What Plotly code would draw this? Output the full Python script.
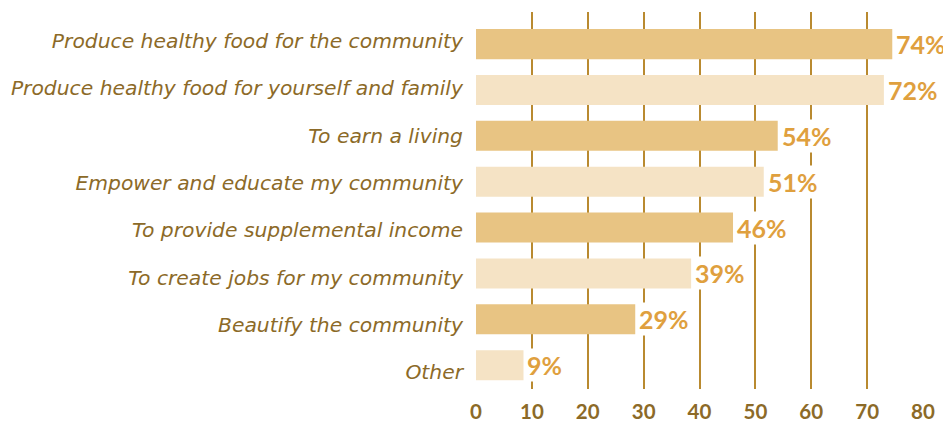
import plotly.graph_objects as go

categories = [
    "Produce healthy food for the community",
    "Produce healthy food for yourself and family",
    "To earn a living",
    "Empower and educate my community",
    "To provide supplemental income",
    "To create jobs for my community",
    "Beautify the community",
    "Other",
]
values = [74.5, 73, 54, 51.5, 46, 38.5, 28.5, 8.5]
value_labels = ["74%", "72%", "54%", "51%", "46%", "39%", "29%", "9%"]
tick_vals = [0, 10, 20, 30, 40, 50, 60, 70, 80]
label_positions = list(range(len(categories)))

DARK = "#E8C483"
LIGHT = "#F5E3C5"
bar_colors = [DARK if i % 2 == 0 else LIGHT for i in range(len(categories))]

fig = go.Figure()
fig.add_trace(go.Bar(
    x=values, y=categories, orientation="h",
    marker=dict(color=bar_colors, line=dict(width=0)),
    hoverinfo="skip",
))
# invisible trace anchoring the category-label axis
fig.add_trace(go.Scatter(
    x=values, y=label_positions, yaxis="y2", mode="markers",
    marker=dict(opacity=0), hoverinfo="skip",
))

for cat, v, lab in zip(categories, values, value_labels):
    fig.add_annotation(
        x=v, y=cat, text=lab, showarrow=False, xanchor="left", yanchor="middle",
        xshift=2, bgcolor="white", borderpad=1,
        font=dict(family="Lato, sans-serif", size=25, color="#DFA03E", weight="bold"),
    )

fig.update_layout(
    width=943, height=415,
    margin=dict(l=468, r=28, t=4, b=34, autoexpand=False),
    paper_bgcolor="white", plot_bgcolor="white",
    bargap=0.345,
    showlegend=False,
    xaxis=dict(
        range=[0, 80], tickvals=tick_vals, showgrid=True, gridcolor="#B98A30", gridwidth=2,
        zeroline=False, showline=False, ticks="", automargin=False,
        tickfont=dict(family="Lato, sans-serif", size=20.5, color="#8C6A28", weight="bold"),
        ticklabelstandoff=8,
    ),
    yaxis=dict(
        type="category", categoryorder="array", categoryarray=categories,
        range=[7.52, -0.7], showgrid=False, zeroline=False, showline=False,
        ticks="", showticklabels=False, automargin=False,
    ),
    yaxis2=dict(
        overlaying="y", side="left", anchor="x", automargin=False,
        range=[7.357, -0.613], tickvals=label_positions, ticktext=categories,
        showgrid=False, zeroline=False, showline=False, ticks="", ticklabelstandoff=12,
        tickfont=dict(family="DejaVu Sans, sans-serif", size=20.3, color="#8C6A28", style="italic"),
    ),
)

fig.write_html("out.html")
